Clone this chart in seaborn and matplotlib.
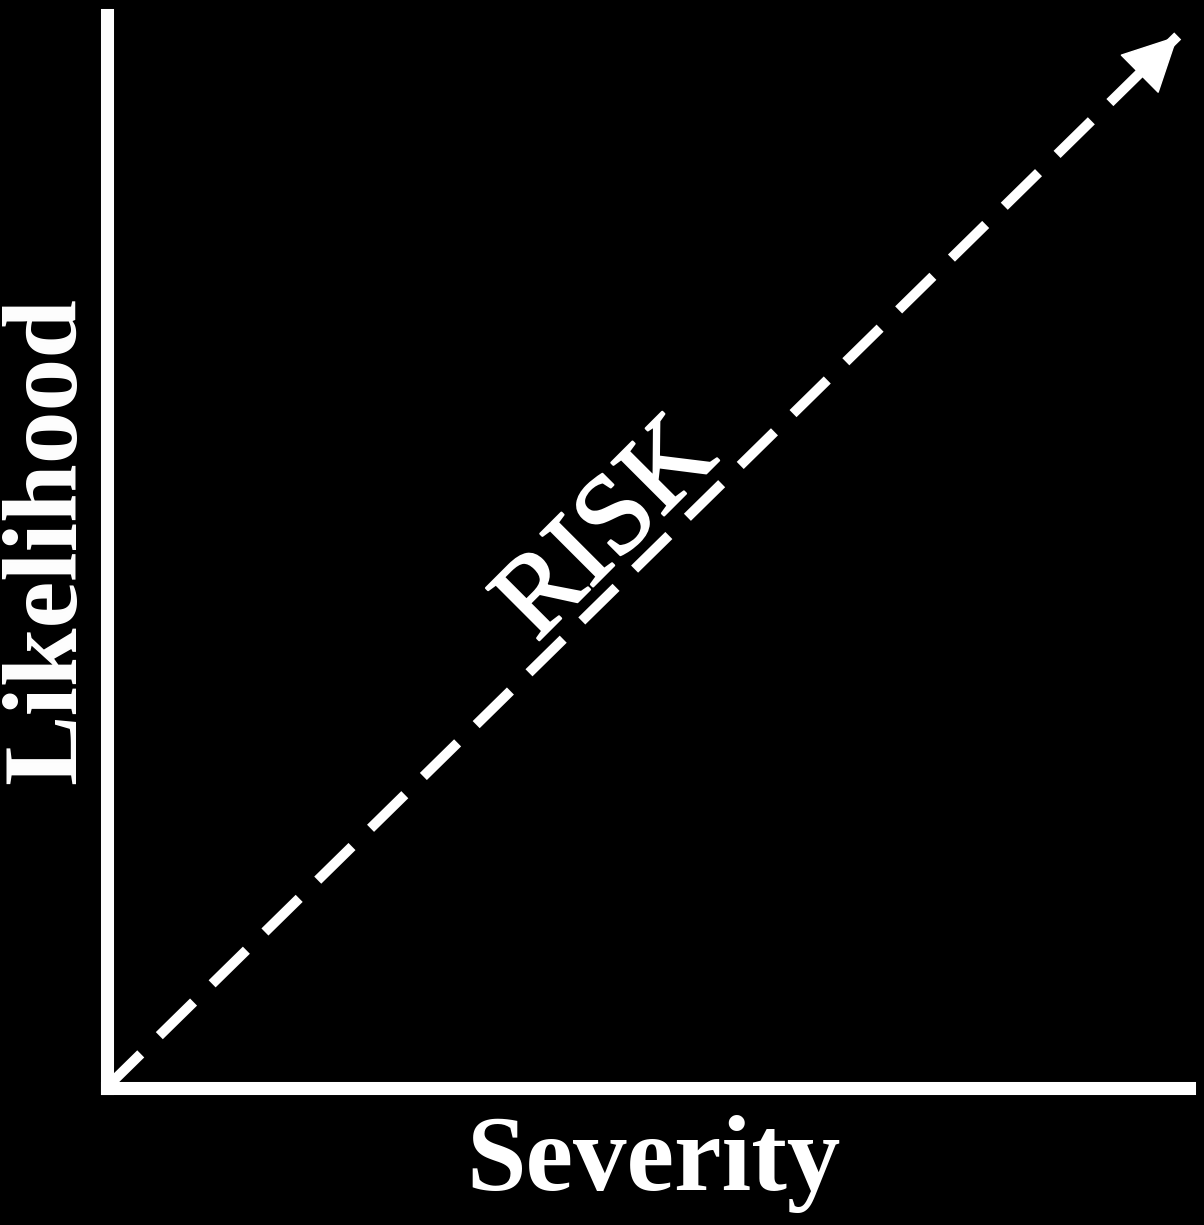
import matplotlib
matplotlib.use("Agg")
import matplotlib.pyplot as plt
import matplotlib.patheffects as pe
import seaborn as sns

# -----------------------------
# Data: risk grows with severity and likelihood
# -----------------------------
risk_severity = [0.0, 0.99]
risk_likelihood = [0.0, 0.98]
risk_label = "RISK"
x_label = "Severity"
y_label = "Likelihood"

# -----------------------------
# Style
# -----------------------------
sns.set_theme(style="white", rc={
    "figure.facecolor": "black",
    "axes.facecolor": "black",
    "axes.edgecolor": "white",
    "axes.linewidth": 9.4,
})
plt.rcParams["font.family"] = ["Liberation Serif", "DejaVu Serif"]

fig = plt.figure(figsize=(12.04, 12.25), dpi=100)
ax = fig.add_axes([0.08846, 0.11224, 0.8987, 0.8759])
sns.despine(ax=ax, top=True, right=True)
ax.set_xlim(0, 1)
ax.set_ylim(0, 1)
ax.set_xticks([])
ax.set_yticks([])

# dashed risk line
sns.lineplot(x=risk_severity, y=risk_likelihood, color="white", lw=7.2,
             linestyle=(0, (4.8, 2.6)), ax=ax, clip_on=False)

# arrow head at the high-risk end
ax.annotate("", xy=(risk_severity[1], risk_likelihood[1]),
            xytext=(risk_severity[1] - 0.05, risk_likelihood[1] - 0.05),
            arrowprops=dict(arrowstyle="-|>,head_length=1.87,head_width=0.94",
                            mutation_scale=20, color="white", lw=1,
                            shrinkA=0, shrinkB=0))

# slightly heavier stroke than plain regular weight
ax.text(0.464, 0.518, risk_label, rotation=45, rotation_mode="anchor",
        ha="center", va="center", fontsize=82, color="white",
        path_effects=[pe.withStroke(linewidth=1.6, foreground="white")])

# axis titles
fig.text(0.5424, 0.0286, x_label, ha="center", va="baseline",
         fontsize=77, fontweight="bold", color="white")
fig.text(0.0623, 0.5585, y_label, rotation=90, rotation_mode="anchor",
         ha="center", va="baseline", fontsize=76, fontweight="bold",
         color="white")

plt.savefig("out.png", dpi=100, facecolor="black")
